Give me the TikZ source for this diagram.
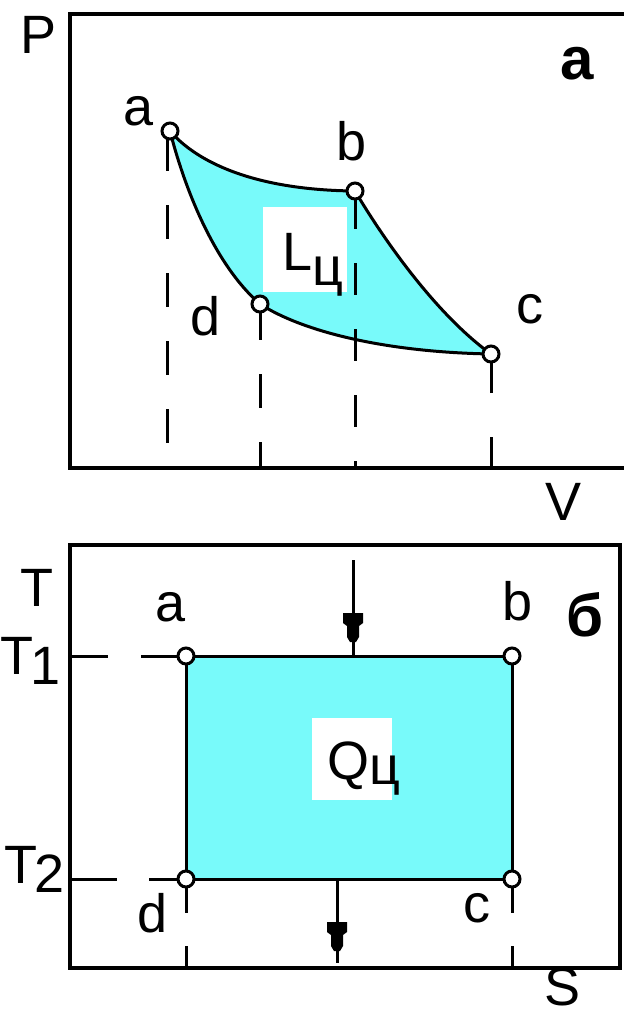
\documentclass[tikz,border=0pt]{standalone}
\usepackage{fontspec}
\setmainfont{Liberation Sans}
\definecolor{cian}{RGB}{120,250,250}
\begin{document}
\begin{tikzpicture}[x=1pt, y=-1pt,
    eje/.style={line width=4pt},
    ciclo/.style={line width=3pt, line join=round},
    discont/.style={line width=3pt, dash pattern=on 34pt off 34pt},
    punto/.style={circle, draw, fill=white, line width=3pt, inner sep=0pt, minimum size=16pt},
    etiq/.style={font=\fontsize{54}{60}\selectfont, inner sep=0pt},
    marca/.style={font=\fontsize{60}{66}\selectfont\bfseries, inner sep=0pt},
    flechaQ/.pic={\fill (-10,0) -- (10,0) -- (10,10) -- (6,13) -- (6,24) -- (3,29)
        -- (-3,29) -- (-6,24) -- (-6,13) -- (-10,10) -- cycle;}]
    \useasboundingbox (0,0) rectangle (624,1013);

    % Diagrama P-V: ciclo a-b-c-d con el trabajo del ciclo.
    \coordinate (a) at (170,131);
    \coordinate (b) at (355,191);
    \coordinate (c) at (491,354);
    \coordinate (d) at (260,304);
    \coordinate (Opv) at (70,468);
    \fill[cian] (a) .. controls (195,160) and (250,190) .. (b)
        .. controls (375,225) and (430,310) .. (c)
        .. controls (380,352) and (300,330) .. (d)
        .. controls (215,265) and (185,190) .. (a) -- cycle;
    \fill[white] (263,207) rectangle (347,292);
    \draw[discont, dash phase=62pt] (167,131) -- (167,468);
    \draw[discont, dash pattern=on 32pt off 34pt, dash phase=60pt] (b) -- (b |- Opv);
    \draw[discont, dash phase=66pt] (d) -- (d |- Opv);
    \draw[discont, dash pattern=on 31pt off 44pt] (c |- Opv) -- (c);
    \draw[ciclo] (a) .. controls (195,160) and (250,190) .. (b)
        .. controls (375,225) and (430,310) .. (c);
    \draw[ciclo] (a) .. controls (185,190) and (215,265) .. (d)
        .. controls (300,330) and (380,352) .. (c);
    \draw[eje] (624,14) -- (70,14) -- (Opv) -- (624,468);
    \foreach \p in {a,b,c,d} \node[punto] (p\p) at (\p) {};
    \node[etiq] (Lc) at (313,265) {L\raisebox{-15pt}{ц}};
    \node[etiq] (labP) at (39,35) {P};
    \node[etiq] (labV) at (564,502) {V};
    \node[marca] (labA) at (577,64) {a};
    \node[etiq] (la) at (139,111) {a};
    \node[etiq] (lb) at (352,141) {b};
    \node[etiq] (lc) at (530,309) {c};
    \node[etiq] (ld) at (206,316) {d};

    % Diagrama T-S: rectángulo de Carnot con el calor del ciclo.
    \coordinate (A) at (186,656);
    \coordinate (B) at (512,656);
    \coordinate (C) at (512,879);
    \coordinate (D) at (186,879);
    \coordinate (Ots) at (70,968);
    \fill[cian] (A) rectangle (C);
    \fill[white] (312,718) rectangle (392,800);
    \draw[discont, dash pattern=on 38pt off 33pt] (70,656) -- (A);
    \draw[discont, dash pattern=on 47pt off 32pt] (70,879) -- (D);
    \draw[discont, dash pattern=on 34pt off 33pt] (D) -- (D |- Ots);
    \draw[discont, dash pattern=on 34pt off 33pt] (C) -- (C |- Ots);
    \draw[ciclo] (A) -- (B) -- (C) -- (D) -- cycle;
    \draw[line width=3pt] (353,560) -- (353,656);
    \pic at (353,613) {flechaQ};
    \draw[line width=3pt] (337,879) -- (337,963);
    \pic at (337,922) {flechaQ};
    \draw[eje] (Ots) rectangle (620,545);
    \foreach \p in {A,B,C,D} \node[punto] (p\p) at (\p) {};
    \node[etiq] (Qc) at (364,769) {Q\raisebox{-5pt}{ц}};
    \node[etiq] (labT) at (37,588) {T};
    \node[etiq] (labT1) at (31,661) {T\kern-3pt\raisebox{-10pt}{1}};
    \node[etiq] (labT2) at (35,869) {T\kern-3pt\raisebox{-9pt}{2}};
    \node[etiq] (labS) at (563,987) {S};
    \node[marca] (labB) at (585,615) {б};
    \node[etiq] (lA) at (171,607) {a};
    \node[etiq] (lB) at (518,601) {b};
    \node[etiq] (lC) at (477,908) {c};
    \node[etiq] (lD) at (153,913) {d};
\end{tikzpicture}
\end{document}
